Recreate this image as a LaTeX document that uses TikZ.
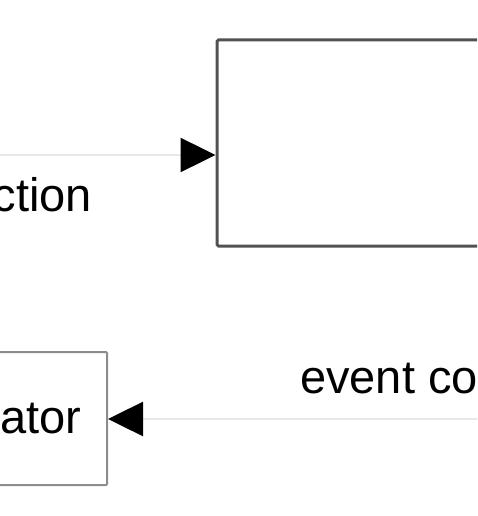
\documentclass[tikz,border=0pt]{standalone}
\usepackage{fontspec}
\setmainfont{Liberation Sans}
\usetikzlibrary{arrows.meta}
\tikzset{
  blockbig/.style={draw=black!68, line width=3pt, rounded corners=1.5pt, fill=white},
  blocksmall/.style={draw=black!45, line width=2pt, rounded corners=1pt, fill=white,
    font=\fontsize{47}{56}\selectfont},
  sigline/.style={draw=black!9, line width=2.5pt, -{Triangle[length=35pt,width=34pt,fill=black,color=black]}},
  siglabel/.style={font=\fontsize{47}{56}\selectfont, inner sep=0pt}
}
\begin{document}
\begin{tikzpicture}[x=1pt,y=-1pt]
\useasboundingbox (0,0) rectangle (477,516);
\clip (0,0) rectangle (477,516);
% bloky
\node[blockbig, minimum width=343pt, minimum height=206pt] (plant) at (388.5,143) {};
\node[blocksmall, minimum width=132pt, minimum height=133pt] (gen) at (41,418.5) {ator};
% signaly
\coordinate (inL) at (-10,155);
\coordinate (inR) at (500,419);
\draw[sigline] (inL) -- (inL -| plant.west);
\draw[sigline] (inR) -- (inR -| gen.east);
\node[siglabel, anchor=base east] (lab1) at (92,211) {ction};
\node[siglabel, anchor=base west] (lab2) at (300,393) {event co};
\end{tikzpicture}
\end{document}
